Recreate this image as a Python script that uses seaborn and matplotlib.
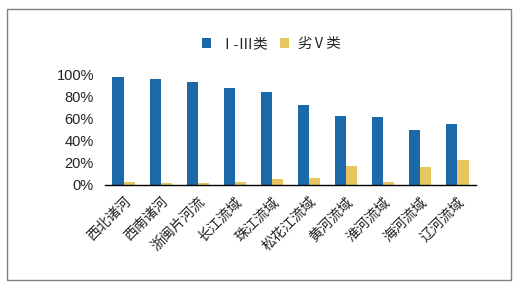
import matplotlib
matplotlib.use("Agg")
import matplotlib.pyplot as plt
from matplotlib.patches import Rectangle
from matplotlib.ticker import FixedLocator, PercentFormatter
import seaborn as sns
import pandas as pd

categories = ["西北诸河", "西南诸河", "浙闽片河流", "长江流域", "珠江流域",
              "松花江流域", "黄河流域", "淮河流域", "海河流域", "辽河流域"]
series_names = ["Ⅰ-Ⅲ类", "劣Ⅴ类"]
class_1_3 = [97.5, 95.5, 92.4, 87.5, 83.5, 72.0, 62.0, 61.0, 50.0, 55.0]
class_v_worse = [2.5, 2.0, 1.5, 2.5, 5.0, 6.6, 17.5, 2.8, 16.5, 22.8]
colors = ["#1B69A8", "#E6C75F"]

df = pd.DataFrame({
    "cat": categories * 2,
    "series": [series_names[0]] * len(categories) + [series_names[1]] * len(categories),
    "value": [v / 100 for v in class_1_3] + [v / 100 for v in class_v_worse],
})

sns.set_style("white")
plt.rcParams["font.family"] = ["Liberation Sans", "Noto Sans CJK SC", "DejaVu Sans"]

fig = plt.figure(figsize=(5.17, 2.88), dpi=100)
ax = fig.add_axes([105 / 517, 1 - 185 / 288, 371 / 517, 111 / 288])

sns.barplot(data=df, x="cat", y="value", hue="series", palette=colors,
            width=0.6, gap=0, ax=ax, saturation=1, edgecolor="none")

ax.set_ylim(0, 1)
ax.set_xlim(-0.5, len(categories) - 0.5)
ax.yaxis.set_major_locator(FixedLocator([0, 0.2, 0.4, 0.6, 0.8, 1.0]))
ax.yaxis.set_major_formatter(PercentFormatter(1.0, decimals=0))
ax.tick_params(axis="y", length=0, labelsize=10.5, pad=8, colors="#222222")
ax.set_xlabel("")
ax.set_ylabel("")

ax.set_xticks(range(len(categories)))
ax.set_xticklabels(categories, rotation=45, ha="right", rotation_mode="anchor",
                   fontsize=10, family=["Noto Sans CJK SC", "DejaVu Sans"], color="#222222")
ax.tick_params(axis="x", which="major", length=0, pad=7)
ax.set_xticks([i - 0.5 for i in range(len(categories) + 1)], minor=True)
ax.tick_params(axis="x", which="minor", length=4, width=1, direction="out", color="black")

for s in ["top", "right", "left"]:
    ax.spines[s].set_visible(False)
ax.spines["bottom"].set_color("black")
ax.spines["bottom"].set_linewidth(1)

ax.legend(loc="center", bbox_to_anchor=(0.45, 1.27), ncol=2, frameon=False,
          handlelength=0.6, handleheight=0.6, columnspacing=0.8, handletextpad=0.6,
          prop={"family": ["Liberation Sans", "Noto Sans CJK SC"], "size": 10.5})

fig.patches.append(Rectangle((6.5 / 517, 1 - 280 / 288), (510.7 - 6.5) / 517, (280 - 8.5) / 288,
                             transform=fig.transFigure, fill=False, edgecolor="#808080",
                             linewidth=1))

fig.savefig("out.png", dpi=100)
